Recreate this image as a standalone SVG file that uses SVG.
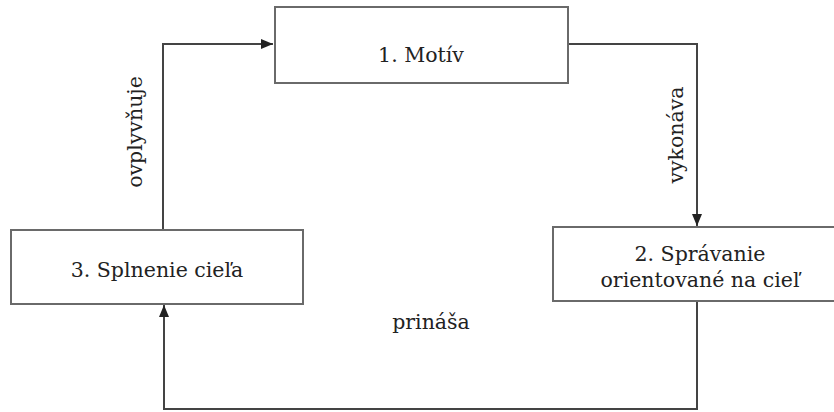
<svg xmlns="http://www.w3.org/2000/svg" width="834" height="412" viewBox="0 0 834 412">
<style>
.box{fill:#fff;stroke:#6a6a6a;stroke-width:2}
.t{font-family:'DejaVu Serif',serif;font-size:20.5px;fill:#222;text-anchor:middle}
.c{fill:none;stroke:#444;stroke-width:2}
</style>
<defs>
<marker id="ah" viewBox="0 0 12 10" refX="12" refY="5" markerWidth="12" markerHeight="10" markerUnits="userSpaceOnUse" orient="auto">
<path d="M0,0 L12,5 L0,10 z" fill="#222"/>
</marker>
</defs>
<rect width="834" height="412" fill="#fff"/>
<g id="connectors">
<path class="c" d="M163,230 V44 H273" marker-end="url(#ah)"/>
<path class="c" d="M568,44 H697 V226" marker-end="url(#ah)"/>
<path class="c" d="M697,301 V409 H164 V305" marker-end="url(#ah)"/>
<text class="t" transform="translate(142,132) rotate(-90)">ovplyvňuje</text>
<text class="t" transform="translate(683,135) rotate(-90)">vykonáva</text>
<text class="t" x="431" y="329">prináša</text>
</g>
<g id="n1">
<rect class="box" x="275" y="7" width="293" height="76"/>
<text class="t" x="421" y="62">1. Motív</text>
</g>
<g id="n2">
<rect class="box" x="553" y="227" width="300" height="74"/>
<text class="t" x="700" y="261">2. Správanie</text>
<text class="t" x="700" y="287">orientované na cieľ</text>
</g>
<g id="n3">
<rect class="box" x="11" y="230" width="292" height="74"/>
<text class="t" x="157" y="277">3. Splnenie cieľa</text>
</g>
</svg>
